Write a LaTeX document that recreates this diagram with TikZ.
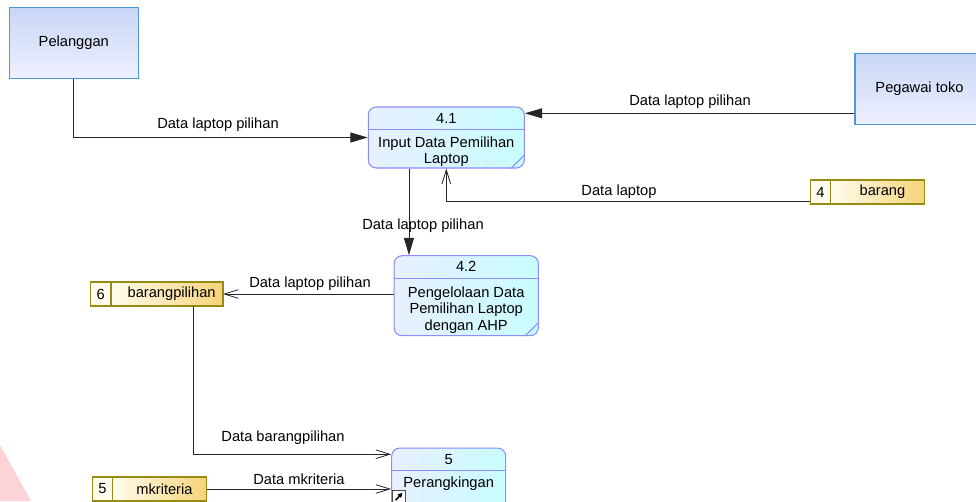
\documentclass[tikz,border=0pt]{standalone}
\usepackage{fontspec}
\setmainfont{Liberation Sans}
\usetikzlibrary{arrows.meta}
\usetikzlibrary{calc}
\definecolor{entline}{RGB}{80,150,215}
\definecolor{entfilla}{RGB}{200,214,245}
\definecolor{entfillb}{RGB}{238,240,255}
\definecolor{procline}{RGB}{140,140,255}
\definecolor{procfilla}{RGB}{232,240,255}
\definecolor{procfillb}{RGB}{200,252,255}
\definecolor{storeline}{RGB}{150,140,20}
\definecolor{storefilla}{RGB}{255,252,238}
\definecolor{storefillb}{RGB}{245,212,120}
\definecolor{wmpink}{RGB}{252,212,216}
\tikzset{
      entity/.style={draw=entline, line width=0.8, top color=entfilla, bottom color=entfillb,
            minimum width=96.75pt, minimum height=53.25pt, inner sep=0},
      process/.style={draw=procline, line width=0.8, rounded corners=6pt,
            left color=procfilla, right color=procfillb, inner sep=0},
      procdiv/.style={draw=procline, line width=0.8},
      storeid/.style={draw=storeline, line width=0.8, fill=storefilla,
            minimum width=15.4pt, minimum height=18pt, inner sep=0, outer sep=0},
      storename/.style={draw=storeline, line width=0.8, left color=storefilla, right color=storefillb,
            minimum height=18pt, inner sep=0, outer sep=0, anchor=west,
            execute at begin node=\hspace{7pt}},
      flow/.style={draw=black!85, line width=0.6, -{Triangle[length=13pt,width=7.5pt]}},
      dflow/.style={draw=black!85, line width=0.6, -{Straight Barb[length=10.5pt,width=6.5pt]}},
      flowlbl/.style={inner sep=0},
}

\begin{document}
\begin{tikzpicture}[x=0.75pt, y=-0.75pt, font=\fontsize{11}{12.5}\selectfont]

        \clip (0,0) rectangle (976,501);
        \fill[wmpink] (0,445) -- (31,501) -- (0,501) -- cycle;

        % external entities
        \node[entity] (pel) at (73.8,42.8) {Pelanggan};
        \node[entity] (peg) at (919.5,88.7) {Pegawai toko};

        % processes
        \node[process, minimum width=117pt, minimum height=45.75pt] (p41) at (446.3,137.5) {};
        \draw[procdiv] ($(p41.north west)+(0,23)$) -- ($(p41.north east)+(0,23)$);
        \draw[procdiv] ($(p41.south east)+(-14,0)$) -- ($(p41.south east)+(0,-14)$);
        \node (p41id) at ($(p41.north)+(0,11.5)$) {4.1};
        \node[align=center] (p41txt) at (446.3,151.7) {Input Data Pemilihan\\Laptop};

        \node[process, minimum width=108.2pt, minimum height=60pt] (p42) at (466.2,295.7) {};
        \draw[procdiv] ($(p42.north west)+(0,23)$) -- ($(p42.north east)+(0,23)$);
        \draw[procdiv] ($(p42.south east)+(-14,0)$) -- ($(p42.south east)+(0,-14)$);
        \node (p42id) at ($(p42.north)+(0,11.5)$) {4.2};
        \node[align=center] (p42txt) at (466.2,310) {Pengelolaan Data\\Pemilihan Laptop\\dengan AHP};

        \node[process, minimum width=85.5pt, minimum height=45.75pt] (p5) at (448.7,478.6) {};
        \draw[procdiv] ($(p5.north west)+(0,23)$) -- ($(p5.north east)+(0,23)$);
        \node (p5id) at ($(p5.north)+(0,11.5)$) {5};
        \node (p5txt) at (448.7,483.3) {Perangkingan};
        \node[draw=black!70, fill=white, line width=0.5, minimum size=9.5pt, inner sep=0] (p5icon) at (398.8,496.5) {};
        \draw[-{Triangle[length=3.5pt,width=3.5pt]}, line width=1.1] ($(p5icon.south west)+(3.5,-3)$) -- ($(p5icon.north east)+(-3,3)$);

        % data stores
        \node[storeid] (st4) at (820.4,192) {4};
        \node[storename, minimum width=70.7pt] (stbarang) at (st4.east) {barang};
        \node[storeid] (st6) at (100.7,294) {6};
        \node[storename, minimum width=84pt] (stbp) at (st6.east) {barangpilihan};
        \node[storeid] (st5) at (102.5,489) {5};
        \node[storename, minimum width=70.5pt] (stmk) at (st5.east) {mkriteria};

        % data flows
        \draw[flow] (pel.south) |- (p41.west);
        \node[flowlbl] (lbpel) at (218,125) {Data laptop pilihan};

        \draw[flow] ([yshift=-18.45pt]peg.west) -- ([yshift=-18.45pt]peg.west -| p41.east);
        \node[flowlbl] (lbpeg) at (690,102) {Data laptop pilihan};

        \draw[dflow] ([yshift=-6.75pt]st4.west) -| (p41.south);
        \node[flowlbl] (lbbarang) at (619,192) {Data laptop};

        \draw[flow] ([xshift=-28pt]p41.south) -- ([xshift=-28pt]p41.south |- p42.north);
        \node[flowlbl] (lbp41) at (423,226) {Data laptop pilihan};

        \draw[dflow] (stbp.east -| p42.west) -- (stbp.east);
        \node[flowlbl] (lbp42) at (310,284) {Data laptop pilihan};

        \draw[dflow] ([xshift=19.5pt]stbp.south) |- ([yshift=-5pt]p5.north west);
        \node[flowlbl] (lbbp) at (283,438) {Data barangpilihan};

        \draw[dflow] (stmk.east) -- (stmk.east -| p5.west);
        \node[flowlbl] (lbmk) at (299,479) {Data mkriteria};

    \end{tikzpicture}
\end{document}
